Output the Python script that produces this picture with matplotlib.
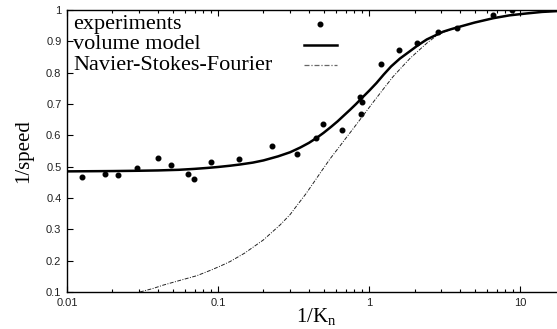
import numpy as np
import matplotlib
matplotlib.use("Agg")
import matplotlib.pyplot as plt

# experimental points (1/Kn, 1/speed)
exp_x = [0.0126, 0.0179, 0.0219, 0.0289, 0.040, 0.0488, 0.063, 0.069, 0.090,
         0.138, 0.227, 0.332, 0.444, 0.498, 0.665, 0.871, 0.897, 0.884,
         1.20, 1.59, 2.08, 2.86, 3.81, 6.59, 8.81]
exp_y = [0.466, 0.478, 0.473, 0.495, 0.527, 0.506, 0.477, 0.460, 0.514,
         0.523, 0.567, 0.541, 0.593, 0.636, 0.618, 0.722, 0.707, 0.667,
         0.827, 0.872, 0.896, 0.929, 0.944, 0.984, 1.000]

# volume model curve
vol_x = [0.01, 0.02, 0.03, 0.04, 0.055, 0.07, 0.085, 0.1, 0.12, 0.14, 0.17, 0.2,
         0.25, 0.3, 0.35, 0.4, 0.45, 0.5, 0.56, 0.62, 0.68, 0.75, 0.82, 0.9,
         1.0, 1.12, 1.25, 1.4, 1.6, 1.87, 2.1, 2.41, 2.8, 3.1, 3.5, 4.0, 5.0,
         6.66, 8.5, 11.0, 14.0, 20.0]
vol_y = [0.485, 0.486, 0.487, 0.488, 0.490, 0.493, 0.496, 0.499, 0.503, 0.507,
         0.513, 0.520, 0.533, 0.546, 0.561, 0.576, 0.592, 0.608, 0.627, 0.645,
         0.663, 0.682, 0.700, 0.720, 0.742, 0.767, 0.794, 0.820, 0.845, 0.869,
         0.887, 0.906, 0.921, 0.931, 0.939, 0.947, 0.960, 0.974, 0.983, 0.989,
         0.994, 0.998]

# Navier-Stokes-Fourier curve
nsf_x = [0.0304, 0.037, 0.0434, 0.055, 0.0724, 0.09, 0.105, 0.12, 0.15, 0.1995,
         0.2576, 0.30, 0.333, 0.38, 0.4267, 0.48, 0.55, 0.63, 0.7128, 0.79,
         0.871, 0.96, 1.07, 1.24, 1.44, 1.65, 1.87, 2.1, 2.41, 2.9, 3.5, 4.0, 5.0,
         6.66, 8.5, 11.0, 14.0, 20.0]
nsf_y = [0.100, 0.111, 0.122, 0.136, 0.152, 0.170, 0.184, 0.197, 0.224, 0.266,
         0.314, 0.347, 0.376, 0.412, 0.447, 0.483, 0.524, 0.561, 0.595, 0.623,
         0.650, 0.677, 0.707, 0.747, 0.787, 0.818, 0.846, 0.868, 0.894, 0.924,
         0.938, 0.947, 0.960, 0.974, 0.983, 0.989, 0.994, 0.998]

labels = ["experiments", "volume model", "Navier-Stokes-Fourier"]

serif = "Liberation Serif"
sans = "Liberation Sans"
plt.rcParams["font.family"] = sans

fig = plt.figure(figsize=(5.57, 3.29), dpi=100)
ax = fig.add_axes([0.1203, 0.1125, 0.895, 0.857])

ax.plot(exp_x, exp_y, "o", color="black", markersize=3.3, linestyle="none")
ax.plot(nsf_x, nsf_y, color="#222222", lw=0.7, dashes=(4, 1.5, 1, 1.5))
ax.plot(vol_x, vol_y, "-", color="black", lw=1.8, solid_joinstyle="round")

ax.set_xscale("log")
ax.set_xlim(0.01, 20)
ax.set_ylim(0.1, 1.0)
ax.set_yticks(np.arange(0.1, 1.01, 0.1))
ax.set_yticklabels(["0.1", "0.2", "0.3", "0.4", "0.5", "0.6", "0.7", "0.8", "0.9", "1"])
ax.set_xticks([0.01, 0.1, 1, 10])
ax.set_xticklabels(["0.01", "0.1", "1", "10"])

ax.tick_params(which="both", direction="in", top=True, right=True,
               labelsize=8, labelcolor="#222222", width=0.8, pad=4)
ax.tick_params(which="major", length=4)
ax.tick_params(which="minor", length=2)
for sp in ax.spines.values():
    sp.set_linewidth(1.0)

ax.set_xlabel("1/K$_\\mathregular{n}$", fontfamily=serif, fontsize=15, labelpad=-1)
ax.set_ylabel("1/speed", fontfamily=serif, fontsize=15, labelpad=9)

# gnuplot-style key: text on left, samples on right
tx = 0.012
rows = [0.947, 0.877, 0.805]
for lab, ry in zip(labels, rows):
    ax.text(tx, ry, lab, transform=ax.transAxes, fontfamily=serif, fontsize=16,
            va="center", ha="left")
sx0, sx1 = 0.475, 0.541
ax.plot([(sx0 + sx1) / 2], [rows[0] + 0.003], "o", color="black", markersize=3.3,
        transform=ax.transAxes)
ax.plot([sx0, sx1], [rows[1], rows[1]], "-", color="black", lw=1.8, transform=ax.transAxes)
ax.plot([sx0, sx1], [rows[2], rows[2]], color="#666666", lw=0.9,
        dashes=(4, 1.5, 1, 1.5), transform=ax.transAxes)

fig.savefig("out.png", dpi=100)
